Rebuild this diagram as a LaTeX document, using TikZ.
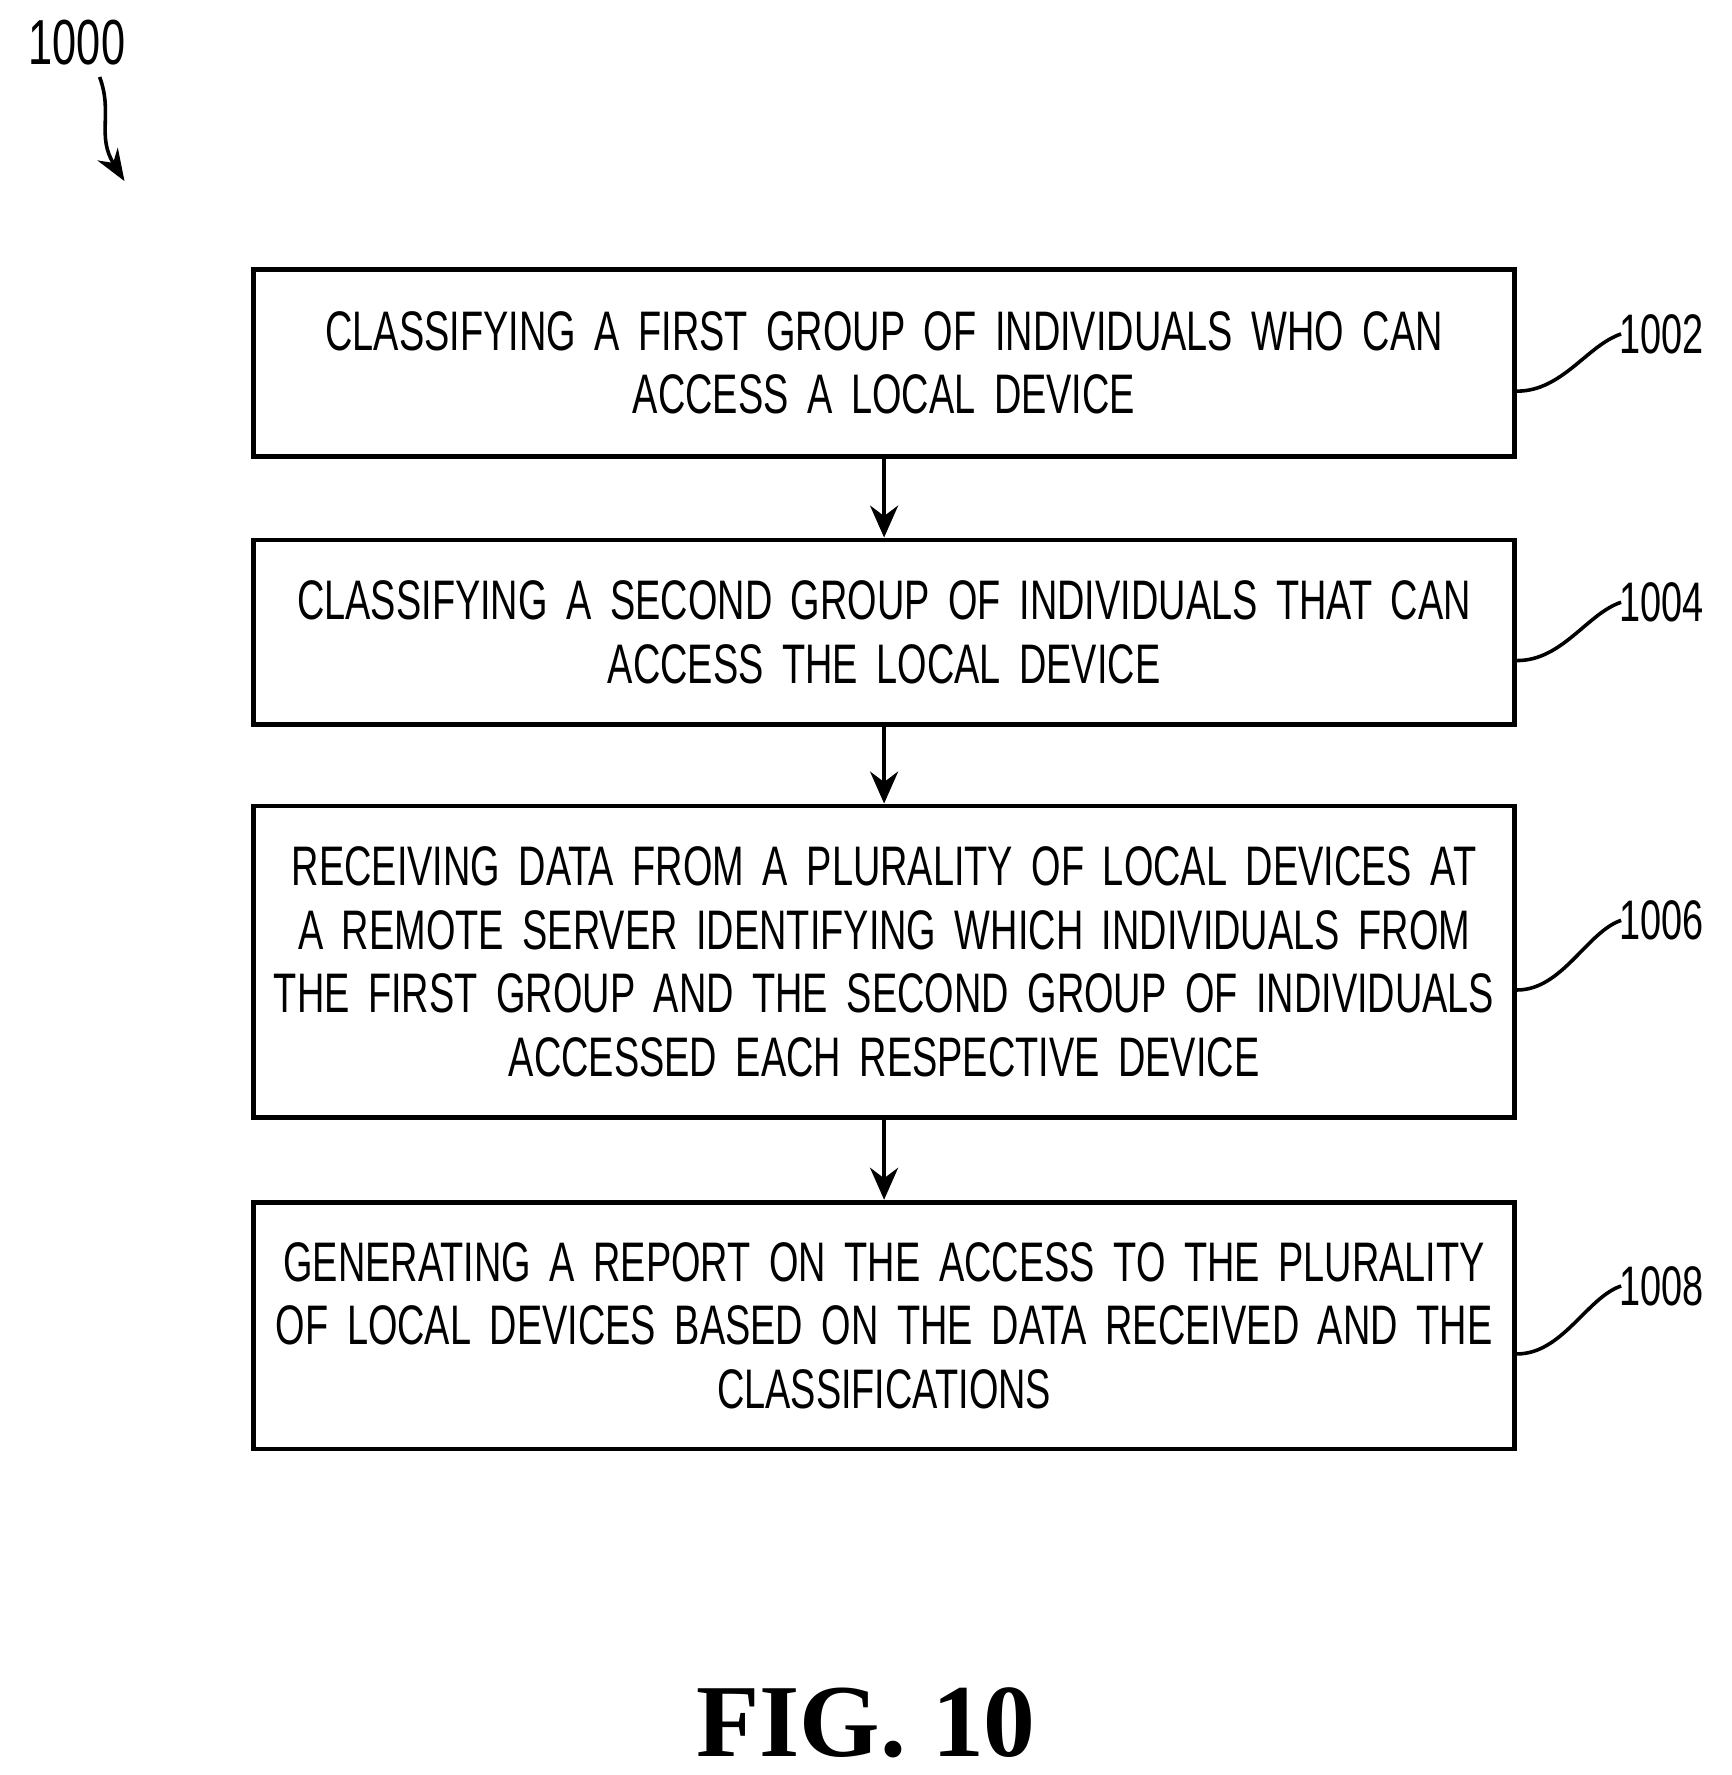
\documentclass[tikz,border=0pt]{standalone}
\usepackage{fontspec}
\setsansfont{Liberation Sans}[FakeStretch=0.68]
\setmainfont{Liberation Serif}
\usetikzlibrary{positioning,arrows.meta}
\tikzset{
	stepbox/.style={draw,line width=1.2pt,text width=10.9cm,align=center,font=\sffamily\fontsize{14}{16}\selectfont},
	ref/.style={font=\sffamily\fontsize{14}{16}\selectfont,anchor=west},
	flow/.style={-{Stealth[length=8pt,width=7pt]},line width=1.2pt},
	lead/.style={line width=0.9pt}
}
\begin{document}
\begin{tikzpicture}[x=0.01cm,y=-0.01cm]
	\useasboundingbox (0,0) rectangle (1530,1568);
	\node[stepbox,minimum height=1.65cm] (b1) at (781,320.5) {CLASSIFYING A FIRST GROUP OF INDIVIDUALS WHO CAN\\ACCESS A LOCAL DEVICE};
	\node[stepbox,minimum height=1.63cm] (b2) at (781,558.5) {CLASSIFYING A SECOND GROUP OF INDIVIDUALS THAT CAN\\ACCESS THE LOCAL DEVICE};
	\node[stepbox,minimum height=2.75cm] (b3) at (781,849.5) {RECEIVING DATA FROM A PLURALITY OF LOCAL DEVICES AT\\A REMOTE SERVER IDENTIFYING WHICH INDIVIDUALS FROM\\THE FIRST GROUP AND THE SECOND GROUP OF INDIVIDUALS\\ACCESSED EACH RESPECTIVE DEVICE};
	\node[stepbox,minimum height=2.18cm] (b4) at (781,1171) {GENERATING A REPORT ON THE ACCESS TO THE PLURALITY\\OF LOCAL DEVICES BASED ON THE DATA RECEIVED AND THE\\CLASSIFICATIONS};
	\draw[flow] (b1) -- (b2);
	\draw[flow] (b2) -- (b3);
	\draw[flow] (b3) -- (b4);
	% reference numerals
	\node[ref] (r1) at (1418,295) {1002};
	\node[ref] (r2) at (1418,532) {1004};
	\node[ref] (r3) at (1418,813) {1006};
	\node[ref] (r4) at (1418,1136) {1008};
	\foreach \b/\r in {b1/r1,b2/r2,b3/r3,b4/r4}
		\draw[lead] ([yshift=-0.25cm]\b.east) .. controls +(40,0) and +(-30,10) .. ([xshift=4pt]\r.west);
	\node[font=\sffamily\fontsize{16}{18}\selectfont] (fig) at (68,38) {1000};
	\coordinate (tip) at (110,160);
	\draw[lead,-{Stealth[length=8pt,width=6pt]}] (88,68) .. controls (100,100) and (85,120) .. (tip);
	\node[font=\rmfamily\bfseries\fontsize{26}{30}\selectfont] (cap) at (765,1522) {FIG. 10};
\end{tikzpicture}
\end{document}
